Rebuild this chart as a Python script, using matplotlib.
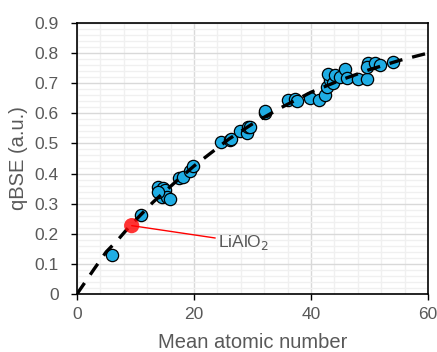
import matplotlib
matplotlib.use("Agg")
import matplotlib.pyplot as plt
from matplotlib.ticker import MultipleLocator

plt.rcParams['font.family'] = ['Liberation Sans', 'DejaVu Sans']

# measured samples (mean atomic number, qBSE)
z_meas = [6.0, 11.0, 13.9, 14.75, 15.0, 14.5, 15.3, 15.9, 13.9,
          17.5, 18.2, 19.4, 19.9,
          24.7, 26.2, 26.4, 27.9, 29.0, 29.3, 29.6, 32.1, 32.1,
          36.1, 37.3, 37.6, 39.8, 41.4, 42.4,
          42.7, 43.2, 42.96, 43.8, 44.1, 44.96, 45.8, 46.1,
          48.1, 49.5, 49.8, 49.5, 50.9, 51.8, 54.0]
q_meas = [0.130, 0.262, 0.356, 0.351, 0.346, 0.323, 0.323, 0.315, 0.340,
          0.385, 0.39, 0.41, 0.425,
          0.505, 0.510, 0.515, 0.540, 0.534, 0.556, 0.556, 0.600, 0.608,
          0.645, 0.647, 0.640, 0.652, 0.645, 0.661,
          0.689, 0.711, 0.731, 0.700, 0.727, 0.722, 0.748, 0.717,
          0.714, 0.714, 0.766, 0.755, 0.766, 0.761, 0.772]

# LiAlO2 highlight
z_lialo2 = 9.35
q_lialo2 = 0.227

# dashed model curve
z_fit = [0, 3, 5, 7, 9, 11, 13, 15, 17, 20, 23, 26, 30, 35, 40, 45, 50, 55, 60]
q_fit = [0, 0.085, 0.14, 0.18, 0.225, 0.265, 0.305, 0.34, 0.375, 0.425,
         0.47, 0.515, 0.565, 0.62, 0.67, 0.71, 0.745, 0.775, 0.80]

gray = '#595959'

fig = plt.figure(figsize=(4.37, 3.52), dpi=100)
ax = fig.add_axes([0.1762, 0.1648, 0.8032, 0.7699])

ax.scatter(z_meas, q_meas, s=78, color='#1FADE4', edgecolor='black',
           linewidth=0.9, zorder=3)
ax.scatter([z_lialo2], [q_lialo2], s=120, color='#FF0000', alpha=0.8,
           edgecolor='none', zorder=5)
ax.plot(z_fit, q_fit, color='black', lw=2.4, dashes=(4.0, 3.0), zorder=4)

ax.annotate('LiAlO$_2$', xy=(z_lialo2, q_lialo2), xytext=(24.1, 0.172),
            color=gray, fontsize=12.5, va='center', ha='left',
            arrowprops=dict(arrowstyle='-', color='red', lw=1,
                            shrinkA=0, shrinkB=0))

ax.set_xlim(0, 60)
ax.set_ylim(0, 0.9)
ax.xaxis.set_major_locator(MultipleLocator(20))
ax.xaxis.set_minor_locator(MultipleLocator(4))
ax.yaxis.set_major_locator(MultipleLocator(0.1))
ax.yaxis.set_minor_locator(MultipleLocator(0.02))
ax.set_yticks([0, 0.1, 0.2, 0.3, 0.4, 0.5, 0.6, 0.7, 0.8, 0.9])
ax.set_yticklabels(['0', '0.1', '0.2', '0.3', '0.4', '0.5', '0.6', '0.7', '0.8', '0.9'])

ax.grid(which='major', color='#D9D9D9', lw=1)
ax.grid(which='minor', color='#F0F0F0', lw=1)
ax.set_axisbelow(True)

ax.tick_params(which='major', direction='out', length=4, width=1,
               labelsize=12.5, labelcolor=gray, color='black')
ax.tick_params(axis='y', pad=9)
ax.tick_params(axis='x', pad=5.5)
ax.tick_params(which='minor', length=0)
for sp in ax.spines.values():
    sp.set_color('black')
    sp.set_linewidth(1.2)

ax.set_xlabel('Mean atomic number', fontsize=14.5, color=gray, labelpad=8)
ax.set_ylabel('qBSE (a.u.)', fontsize=14.5, color=gray, labelpad=5)

fig.savefig('out.png', dpi=100)
